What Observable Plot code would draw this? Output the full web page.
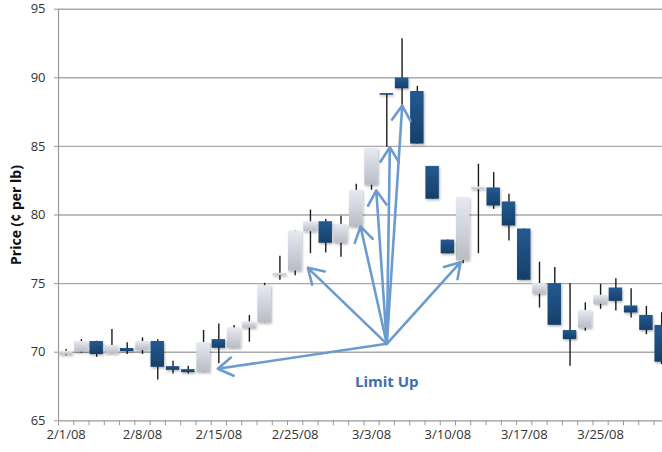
<!DOCTYPE html>
<html>
<head>
<meta charset="utf-8">
<script src="https://cdn.jsdelivr.net/npm/d3@7"></script>
<script src="https://cdn.jsdelivr.net/npm/@observablehq/plot@0.6"></script>
<style>
  html, body { margin: 0; padding: 0; background: #fff; }
  #chart svg { display: block; font-family: "Open Sans", Lato, sans-serif; }
</style>
</head>
<body>
<div id="chart"></div>
<script>
// Daily futures prices, Feb–Mar 2008 (¢ per lb), one entry per trading session
const dates = [
  "2/1/08", "2/4/08", "2/5/08", "2/6/08", "2/7/08", "2/8/08", "2/11/08", "2/12/08", "2/13/08", "2/14/08",
  "2/15/08", "2/19/08", "2/20/08", "2/21/08", "2/22/08", "2/25/08", "2/26/08", "2/27/08", "2/28/08", "2/29/08",
  "3/3/08", "3/4/08", "3/5/08", "3/6/08", "3/7/08", "3/10/08", "3/11/08", "3/12/08", "3/13/08", "3/14/08",
  "3/17/08", "3/18/08", "3/19/08", "3/20/08", "3/24/08", "3/25/08", "3/26/08", "3/27/08", "3/28/08", "3/31/08"
];
const open = [
  69.80, 70.00, 70.78, 69.88, 70.27, 70.12, 70.78, 68.95, 68.73, 68.54,
  70.92, 70.29, 71.75, 72.14, 75.58, 75.92, 78.78, 79.51, 77.94, 79.13,
  82.17, 88.85, 89.98, 89.00, 83.54, 78.17, 76.68, 81.85, 81.97, 80.95,
  78.98, 74.22, 75.00, 71.58, 71.75, 73.49, 74.68, 73.37, 72.68, 71.95
];
const high = [
  70.20, 70.93, 70.80, 71.66, 70.68, 71.05, 70.90, 69.34, 68.98, 71.59,
  72.06, 71.94, 72.67, 75.02, 76.99, 78.83, 80.36, 79.68, 79.90, 82.25,
  84.85, 88.85, 92.85, 89.37, 83.54, 78.17, 81.27, 83.70, 83.09, 81.51,
  78.98, 76.56, 76.17, 75.00, 73.60, 74.95, 75.36, 74.63, 73.34, 72.87
];
const low = [
  69.75, 69.93, 69.63, 69.88, 69.83, 69.83, 67.98, 68.41, 68.41, 68.54,
  69.15, 70.29, 70.73, 72.14, 75.24, 75.58, 77.18, 77.23, 76.92, 79.13,
  81.80, 84.93, 87.98, 85.17, 81.15, 77.17, 76.44, 77.18, 80.41, 78.10,
  75.24, 73.22, 71.96, 68.98, 71.53, 73.12, 73.00, 72.49, 71.27, 69.10
];
const close = [
  70.07, 70.78, 69.83, 70.49, 70.05, 70.78, 68.90, 68.68, 68.51, 70.71,
  70.29, 71.77, 72.21, 74.85, 75.75, 78.83, 79.51, 77.94, 79.32, 81.80,
  84.85, 88.73, 89.20, 85.17, 81.15, 77.17, 81.27, 82.04, 80.66, 79.20,
  75.24, 75.00, 71.96, 70.92, 73.04, 74.15, 73.71, 72.86, 71.59, 69.27
];
const priceTicks = [65, 70, 75, 80, 85, 90, 95];
const labelStep = 5;
const yTitle = "Price (¢ per lb)";

// "Limit Up" callout: arrows fan out from one anchor toward the limit-up sessions
const calloutText = "Limit Up";
const calloutAnchor = {day: 21, price: 70.61};
const arrowTipDay = [9.93, 15.83, 19.28, 20.31, 21.2, 22.01, 25.83];
const arrowTipPrice = [68.79, 76.15, 79.16, 81.79, 84.94, 87.98, 76.56];

const candles = dates.map((date, i) => ({
  i, date, open: open[i], high: high[i], low: low[i], close: close[i]
}));
const rising = candles.filter(d => d.close >= d.open);
const falling = candles.filter(d => d.close < d.open);
const labels = candles.filter(d => d.i % labelStep === 0);
const bandEdges = d3.range(candles.length + 1).map(k => k - 0.5);
const arrows = arrowTipDay.map((day, k) => ({
  x1: calloutAnchor.day, y1: calloutAnchor.price, x2: day, y2: arrowTipPrice[k]
}));
const priceMid = (priceTicks[0] + priceTicks[priceTicks.length - 1]) / 2;

const half = 0.44; // half body width, in sessions

const chart = Plot.plot({
  width: 662,
  height: 452,
  marginLeft: 58,
  marginRight: 0,
  marginTop: 8.7,
  marginBottom: 31.7,
  style: {background: "#fff", color: "#333", fontSize: "13px", fontFamily: "'Open Sans', Lato, sans-serif"},
  x: {
    type: "linear",
    domain: [-0.5, candles.length - 0.5],
    range: [58, 58 + candles.length * 15.27],
    ticks: bandEdges,
    tickFormat: () => "",
    tickSize: 5,
    label: null
  },
  y: {
    domain: [priceTicks[0], priceTicks[priceTicks.length - 1]],
    ticks: priceTicks,
    tickSize: 4,
    tickPadding: 9,
    label: null
  },
  marks: [
    Plot.ruleY(priceTicks.slice(1), {stroke: "#a9a9a9", strokeWidth: 1.4}),
    Plot.ruleY(priceTicks.slice(0, 1), {stroke: "#9a9a9a", strokeWidth: 1.2}),
    Plot.ruleX([-0.5], {stroke: "#9a9a9a", strokeWidth: 1.2}),
    Plot.ruleX(candles, {x: "i", y1: "low", y2: "high", stroke: "#1c1c1c", strokeWidth: 1.4}),
    Plot.rect(rising, {x1: d => d.i - half, x2: d => d.i + half, y1: "open", y2: "close", fill: "url(#risingFill)"}),
    Plot.rect(falling, {x1: d => d.i - half, x2: d => d.i + half, y1: "open", y2: "close", fill: "url(#fallingFill)"}),
    Plot.arrow(arrows, {
      x1: "x1", y1: "y1", x2: "x2", y2: "y2",
      stroke: "#6b9bd0", strokeWidth: 2.6, headLength: 10, headAngle: 64
    }),
    Plot.text([calloutText], {
      x: calloutAnchor.day, y: calloutAnchor.price, text: d => d, dy: 38,
      fill: "#3d6fab", fontWeight: "bold", fontSize: 15
    }),
    Plot.text(labels, {
      x: "i", frameAnchor: "bottom", text: "date", dy: 18,
      fill: "#333", fontSize: 13
    }),
    Plot.text([yTitle], {
      y: priceMid, frameAnchor: "left", textAnchor: "middle", text: d => d, rotate: -90, dx: -42,
      fill: "#111", fontWeight: "bold", fontSize: 14
    })
  ]
});

// gradients and soft shadow for the candle bodies
const svg = d3.select(chart);
const defs = svg.insert("defs", ":first-child");
const rg = defs.append("linearGradient").attr("id", "risingFill").attr("x1", 0).attr("y1", 0).attr("x2", 0).attr("y2", 1);
rg.append("stop").attr("offset", "0%").attr("stop-color", "#e7eaf3");
rg.append("stop").attr("offset", "100%").attr("stop-color", "#b9bcc5");
const fg = defs.append("linearGradient").attr("id", "fallingFill").attr("x1", 0).attr("y1", 0).attr("x2", 0).attr("y2", 1);
fg.append("stop").attr("offset", "0%").attr("stop-color", "#235a91");
fg.append("stop").attr("offset", "100%").attr("stop-color", "#173f69");
const sh = defs.append("filter").attr("id", "bodyShadow")
  .attr("x", "-10%").attr("y", "-10%").attr("width", "130%").attr("height", "130%");
sh.append("feDropShadow").attr("dx", 1).attr("dy", 1.5).attr("stdDeviation", 1)
  .attr("flood-color", "#000").attr("flood-opacity", 0.3);
svg.selectAll('g[aria-label="rect"]').attr("filter", "url(#bodyShadow)");
svg.selectAll('g[aria-label="y-axis tick"], g[aria-label="x-axis tick"]').attr("stroke", "#999");

document.getElementById("chart").appendChild(chart);
</script>
</body>
</html>
